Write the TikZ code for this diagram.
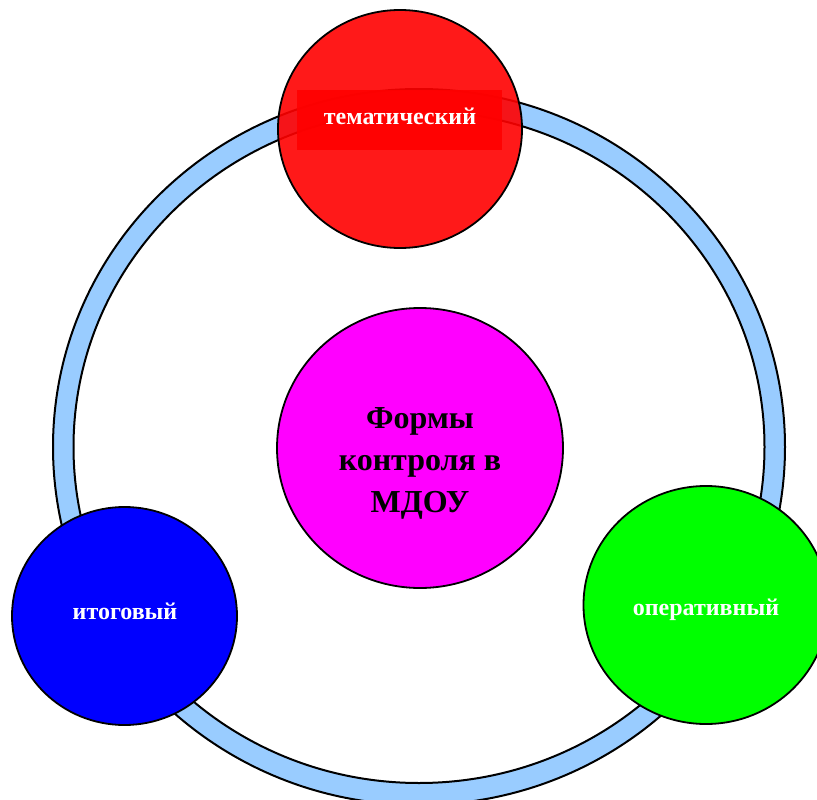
\documentclass[tikz,border=0pt]{standalone}
\usepackage{fontspec}
\setmainfont{Liberation Serif}
\usepackage{tikz}
\usetikzlibrary{calc}
\usetikzlibrary{shapes}
\definecolor{ringblue}{HTML}{99CCFF}
\definecolor{formred}{HTML}{FF0000}
\definecolor{formblue}{HTML}{0000FF}
\definecolor{formgreen}{HTML}{00FF00}
\definecolor{formmagenta}{HTML}{FF00FF}
\newcommand{\formcircle}[6]{ \node[shape=ellipse,draw=black,line width=1.8pt,fill=#4,inner sep=0pt,minimum width=#5 pt,minimum height=#6 pt] (#1) at ( #2 , #3 ){};}
\tikzset{formlabel/.style={text=white,font=\fontsize{24}{28}\selectfont\bfseries,inner sep=0pt}}

\begin{document}
\begin{tikzpicture}[x=1pt,y=-1pt]
    \useasboundingbox ( 0 , 0 ) rectangle ( 817 , 800 );
    % ring
    \draw[fill=ringblue,even odd rule,line width=2pt] ( 419 , 447 ) ellipse [x radius=366pt, y radius=358pt] ( 419 , 447 ) ellipse [x radius=345.5pt, y radius=336pt];
    % top
    \begin{scope}[fill opacity=0.9]
    \formcircle{thematic}{400}{129}{formred}{244}{238}
    \end{scope}
    \node[fill=formred,fill opacity=0.9,minimum width=205pt,minimum height=60pt,inner sep=0pt] (thematicbox) at ( 399.5 , 120 ){};
    \node[formlabel] (thematictext) at ( 400 , 116 ){тематический};
    % centre
    \formcircle{forms}{420}{448}{formmagenta}{286}{280}
    \node[font=\fontsize{32}{42}\selectfont\bfseries,align=center,inner sep=0pt] (formstext) at ( 420 , 463 ){Формы\\контроля в\\МДОУ};
    % left
    \formcircle{final}{124.5}{616}{formblue}{225}{218}
    \node[formlabel] (finaltext) at ( 125 , 611 ){итоговый};
    % right
    \formcircle{operative}{706}{605}{formgreen}{245}{238}
    \node[formlabel] (operativetext) at ( 706 , 610 ){оперативный};
\end{tikzpicture}
\end{document}
